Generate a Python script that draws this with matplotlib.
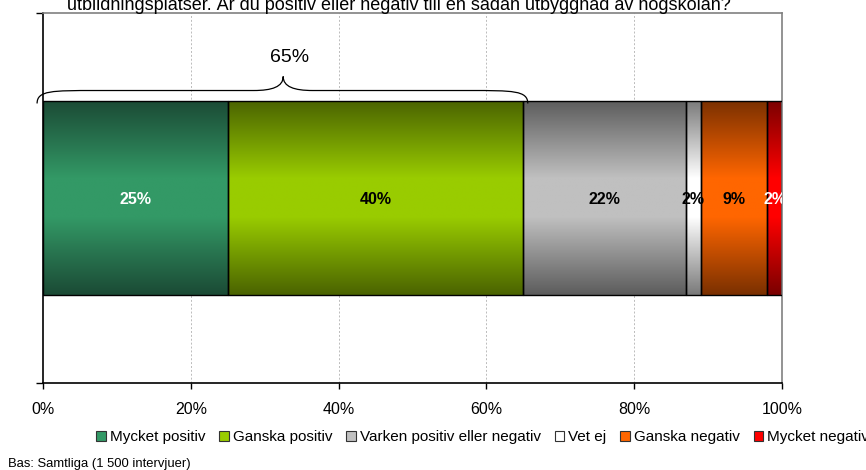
import numpy as np
import matplotlib
matplotlib.use('Agg')
from matplotlib import pyplot as plt
from matplotlib.colors import LinearSegmentedColormap
from matplotlib.patches import Patch, PathPatch
from matplotlib.path import Path

plt.rcParams['font.family'] = ['Liberation Sans', 'DejaVu Sans']

categories = ['Mycket positiv', 'Ganska positiv', 'Varken positiv eller negativ',
              'Vet ej', 'Ganska negativ', 'Mycket negativ']
values = [25, 40, 22, 2, 9, 2]
labels = ['25%', '40%', '22%', '2%', '9%', '2%']
label_colors = ['white', 'black', 'black', 'black', 'black', 'white']
center_colors = ['#339966', '#99CC00', '#C0C0C0', '#FFFFFF', '#FF6600', '#FF0000']
edge_colors = ['#1B4A35', '#4A6300', '#5C5C5C', '#7A7A7A', '#7A3000', '#7A0000']
xticks = [0, 20, 40, 60, 80, 100]
xticklabels = ['0%', '20%', '40%', '60%', '80%', '100%']
brace_total = 65
title = 'utbildningsplatser. Är du positiv eller negativ till en sådan utbyggnad av högskolan?'
note = 'Bas: Samtliga (1 500 intervjuer)'

fig = plt.figure(figsize=(8.66, 4.70), dpi=100)
ax = fig.add_axes([43/866, 1-383/470, (782-43)/866, (383-13)/470])
ax.set_xlim(0, 100)
ax.set_ylim(0, 1)

# dotted vertical grid
for x in xticks[1:-1]:
    ax.axvline(x, color='#BBBBBB', lw=0.7, ls=(0, (2, 2)), zorder=0)

lefts = np.concatenate([[0], np.cumsum(values)[:-1]])
bar_h = 0.527
bars = ax.barh(0.5, values, left=lefts, height=bar_h, facecolor='none',
               edgecolor='black', lw=1.0, zorder=3)

# vertical gradient inside each segment, clipped to the bar
grad = np.linspace(0, 1, 256).reshape(-1, 1)
for b, c0, c1 in zip(bars, center_colors, edge_colors):
    cmap = LinearSegmentedColormap.from_list('g', [(0, c1), (0.4, c0), (0.6, c0), (1, c1)])
    x0, y0 = b.get_x(), b.get_y()
    im = ax.imshow(grad, extent=[x0, x0 + b.get_width(), y0, y0 + b.get_height()],
                   aspect='auto', cmap=cmap, origin='lower', zorder=2, interpolation='bilinear')
    im.set_clip_path(b)

for l, v, lab, col in zip(lefts, values, labels, label_colors):
    ax.text(l + v/2, 0.5 - 0.003, lab, ha='center', va='center', color=col,
            fontsize=11.5, fontweight='bold', zorder=4, clip_on=True)

# brace over the positive part
ytop = 0.5 + bar_h/2
xl, xr, xm = -0.8, brace_total + 0.6, brace_total/2
yl, ym, yp = ytop - 0.008, ytop + 0.027, ytop + 0.065
verts = [(xl, yl),
         (xl, ym), (xl + 2, ym), (xl + 8, ym),
         (xm - 4, ym),
         (xm - 1.5, ym), (xm, ym + 0.01), (xm, yp),
         (xm, ym + 0.01), (xm + 1.5, ym), (xm + 4, ym),
         (xr - 8, ym),
         (xr - 2, ym), (xr, ym), (xr, yl)]
codes = [Path.MOVETO,
         Path.CURVE4, Path.CURVE4, Path.CURVE4,
         Path.LINETO,
         Path.CURVE4, Path.CURVE4, Path.CURVE4,
         Path.CURVE4, Path.CURVE4, Path.CURVE4,
         Path.LINETO,
         Path.CURVE4, Path.CURVE4, Path.CURVE4]
ax.add_patch(PathPatch(Path(verts, codes), facecolor='none', edgecolor='black',
                       lw=0.9, clip_on=False, zorder=5))
ax.text(xm + 0.8, yp + 0.051, f'{brace_total}%', ha='center', va='center', fontsize=14)

ax.set_xticks(xticks)
ax.set_xticklabels(xticklabels, fontsize=11.5)
ax.set_yticks([0, 1])
ax.set_yticklabels([])
ax.tick_params(axis='x', direction='out', length=4, width=1, pad=10)
ax.tick_params(axis='y', direction='out', length=5, width=1)
ax.spines['top'].set_color('#808080')
ax.spines['right'].set_color('#808080')
for s in ['top', 'right', 'left', 'bottom']:
    ax.spines[s].set_linewidth(1.2)

handles = [Patch(facecolor=c, edgecolor='#333333', lw=0.8) for c in center_colors]
fig.legend(handles, categories, loc='center left', bbox_to_anchor=(96/866, 1-437/470),
           ncol=6, frameon=False, fontsize=11, handlelength=0.65, handleheight=0.65,
           handletextpad=0.25, columnspacing=0.9, borderpad=0, borderaxespad=0)

fig.text(399/866, 1-10/470, title, ha='center', va='baseline', fontsize=13)
fig.text(8/866, 1-464/470, note, ha='left', va='center', fontsize=9.4)

fig.savefig('out.png', dpi=100)
